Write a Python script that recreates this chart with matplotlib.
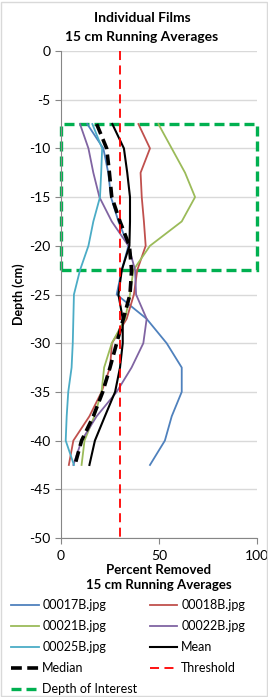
import matplotlib.pyplot as plt
from matplotlib.patches import Rectangle
from matplotlib.lines import Line2D

plt.rcParams['font.family'] = ['Lato', 'DejaVu Sans']
plt.rcParams['axes.unicode_minus'] = False

depth = [-7.5, -10, -12.5, -15, -17.5, -20, -22.5, -25, -27.5, -30, -32.5, -35, -37.5, -40, -42.5]

f17 = [13.4, 21.6, 24.1, 25.5, 29.3, 34.4, 31.0, 28.4, 43.7, 53.9, 61.6, 61.6, 56.5, 53.0, 45.4]
f18 = [39.5, 45.4, 40.6, 41.2, 42.3, 43.2, 38.9, 37.2, 33.5, 26.0, 25.0, 20.7, 14.5, 6.3, 4.0]
f21 = [49.7, 56.5, 63.3, 68.4, 61.6, 45.4, 36.9, 35.2, 32.7, 25.9, 22.0, 20.7, 17.0, 12.0, 10.5]
f22 = [9.7, 14.0, 16.5, 19.6, 25.9, 34.4, 37.8, 38.3, 43.7, 42.0, 36.0, 28.4, 18.2, 10.5, 6.3]
f25 = [16.0, 21.0, 20.5, 19.9, 16.5, 14.0, 9.7, 6.6, 6.3, 6.0, 5.4, 3.7, 2.9, 2.4, 6.6]
mean = [26.2, 32.1, 33.8, 35.2, 35.2, 34.9, 31.0, 29.3, 31.5, 31.5, 30.1, 27.6, 22.4, 17.3, 14.5]
median = [18.2, 23.3, 24.7, 25.9, 30.1, 34.9, 36.0, 35.2, 31.8, 28.4, 25.0, 21.3, 16.5, 10.5, 7.1]

threshold = 30
doi_top = -7.5
doi_bottom = -22.5

fig = plt.figure(figsize=(2.68, 6.97), dpi=100)
ax = fig.add_axes([61/268, 1-538/697, 196/268, 487/697])

ax.plot(f17, depth, color='#4F81BD', lw=1.3, label='00017B.jpg')
ax.plot(f18, depth, color='#C0504D', lw=1.3, label='00018B.jpg')
ax.plot(f21, depth, color='#9BBB59', lw=1.3, label='00021B.jpg')
ax.plot(f22, depth, color='#8064A2', lw=1.3, label='00022B.jpg')
ax.plot(f25, depth, color='#4BACC6', lw=1.3, label='00025B.jpg')
ax.plot(mean, depth, color='black', lw=1.5, label='Mean')
ax.plot(median, depth, color='black', lw=2.6, ls=(0, (3, 1.5)), label='Median')
ax.plot([threshold, threshold], [0, -50], color='#FF0000', lw=1.3, ls=(0, (5, 3)), label='Threshold')
ax.add_patch(Rectangle((0, doi_bottom), 100, doi_top - doi_bottom, fill=False,
                       edgecolor='#00B050', lw=2.4, ls=(0, (3, 1.5)), clip_on=False))

ax.set_xlim(0, 100)
ax.set_ylim(-50, 0)
ax.set_xticks([0, 50, 100])
ax.set_yticks(range(-50, 1, 5))
ax.yaxis.grid(True, color='#D9D9D9', lw=1)
ax.set_axisbelow(True)
for s in ['top', 'right']:
    ax.spines[s].set_visible(False)
for s in ['left', 'bottom']:
    ax.spines[s].set_color('#868686')
ax.tick_params(axis='both', colors='#868686', labelcolor='black', labelsize=10, length=4)
ax.tick_params(axis='x', pad=5)

fig.text(142/268, 1-18/697, 'Individual Films', fontsize=10, fontweight='bold', ha='center', va='center')
fig.text(142/268, 1-37/697, '15 cm Running Averages', fontsize=10, fontweight='bold', ha='center', va='center')
ax.set_ylabel('Depth (cm)', fontsize=9, fontweight='bold', labelpad=3)
ax.set_xlabel('Percent Removed\n15 cm Running Averages', fontsize=9.5, fontweight='bold', labelpad=1, linespacing=1.35)

h, l = ax.get_legend_handles_labels()
hd = dict(zip(l, h))
doi = Line2D([], [], color='#00B050', lw=2.4, ls=(0, (3, 1.5)))
handles = [hd['00017B.jpg'], hd['00021B.jpg'], hd['00025B.jpg'], hd['Median'], doi,
           hd['00018B.jpg'], hd['00022B.jpg'], hd['Mean'], hd['Threshold']]
labels = ['00017B.jpg', '00021B.jpg', '00025B.jpg', 'Median', 'Depth of Interest',
          '00018B.jpg', '00022B.jpg', 'Mean', 'Threshold']
fig.legend(handles, labels, ncol=2, loc='upper left', bbox_to_anchor=(11/268, 1-599/697),
           frameon=False, fontsize=9, handlelength=2.2, handletextpad=0.3,
           columnspacing=1.0, labelspacing=0.72, borderaxespad=0, borderpad=0)

fig.add_artist(Rectangle((0.005, 0.002), 0.99, 0.995, transform=fig.transFigure,
                         fill=False, edgecolor='#D9D9D9', lw=1))

fig.savefig('out.png', dpi=100)
